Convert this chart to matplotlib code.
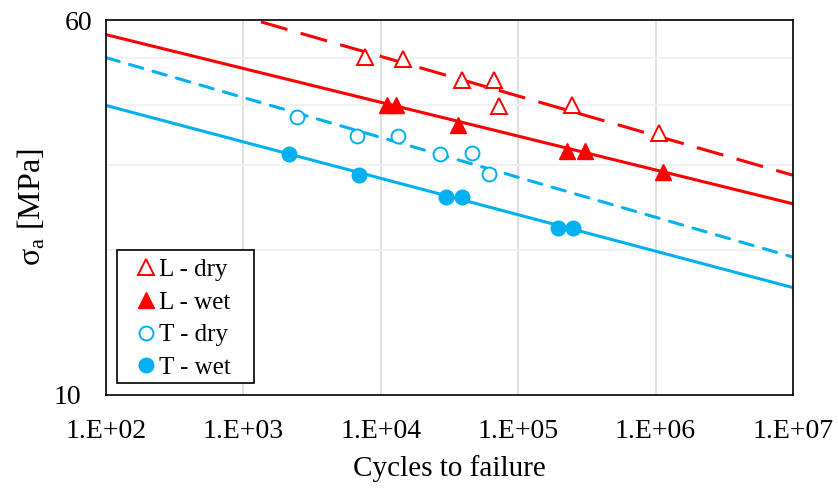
import numpy as np
import matplotlib
matplotlib.use('Agg')
import matplotlib.pyplot as plt
import matplotlib.patches as mpl_patches
from matplotlib.transforms import ScaledTranslation
from matplotlib.ticker import FixedLocator, NullFormatter, NullLocator

plt.rcParams['font.family'] = ['Liberation Serif', 'DejaVu Serif']
plt.rcParams['mathtext.fontset'] = 'custom'
plt.rcParams['mathtext.rm'] = 'Liberation Serif'
plt.rcParams['mathtext.it'] = 'Liberation Serif:italic'

RED = '#FF0000'
BLUE = '#00B0F0'

# test data: cycles to failure and stress amplitude (MPa)
l_dry_n = [7.7e3, 1.45e4, 3.9e4, 6.7e4, 7.25e4, 2.45e5, 1.06e6]
l_dry_s = [50.3, 49.8, 45.0, 45.0, 39.8, 40.0, 35.0]

l_wet_n = [1.11e4, 1.29e4, 3.65e4, 2.27e5, 3.06e5, 1.13e6]
l_wet_s = [40.0, 40.0, 36.3, 32.1, 32.1, 29.0]

t_dry_n = [2.45e3, 6.7e3, 1.33e4, 2.7e4, 4.6e4, 6.1e4]
t_dry_s = [37.8, 34.5, 34.5, 31.6, 31.8, 28.8]

t_wet_n = [2.15e3, 6.9e3, 2.98e4, 3.9e4, 1.95e5, 2.5e5]
t_wet_s = [31.6, 28.6, 25.8, 25.8, 22.2, 22.2]

# power-law trend lines  S = A * N^b
fit_a = {'L - dry': 107.5, 'L - wet': 77.3, 'T - dry': 73.4, 'T - wet': 56.5}
fit_b = {'L - dry': -0.0822, 'L - wet': -0.0702, 'T - dry': -0.0828, 'T - wet': -0.0756}

x_lim = [1e2, 1e7]
y_lim = [10, 60]
x_ticks = [1e2, 1e3, 1e4, 1e5, 1e6, 1e7]
x_labels = ['1.E+02', '1.E+03', '1.E+04', '1.E+05', '1.E+06', '1.E+07']

fig = plt.figure(figsize=(8.38, 4.88), dpi=100)
ax = fig.add_axes([0.1265, 0.1906, 0.8198, 0.7684])

n_line = np.logspace(2, 7, 200)
def trend(key):
    return fit_a[key] * n_line ** fit_b[key]

ax.plot(n_line, trend('L - dry'), color=RED, lw=2.2, dashes=(9, 4.5), zorder=2)
ax.plot(n_line, trend('L - wet'), color=RED, lw=2.2, zorder=2)
ax.plot(n_line, trend('T - dry'), color=BLUE, lw=2.2, dashes=(4.5, 3.5),
        dash_capstyle='round', zorder=2)
ax.plot(n_line, trend('T - wet'), color=BLUE, lw=2.2, zorder=2)

ax.plot(l_dry_n, l_dry_s, ls='none', marker='^', ms=12, mfc='white', mec=RED,
        mew=1.4, label='L - dry', zorder=3)
ax.plot(l_wet_n, l_wet_s, ls='none', marker='^', ms=12, mfc=RED, mec=RED,
        mew=1.0, label='L - wet', zorder=3)
ax.plot(t_dry_n, t_dry_s, ls='none', marker='o', ms=10, mfc='white', mec=BLUE,
        mew=1.4, label='T - dry', zorder=3)
ax.plot(t_wet_n, t_wet_s, ls='none', marker='o', ms=10.5, mfc=BLUE, mec=BLUE,
        mew=1.0, label='T - wet', zorder=3)

ax.set_xscale('log')
ax.set_yscale('log')
ax.set_xlim(x_lim)
ax.set_ylim(y_lim)

ax.xaxis.set_major_locator(FixedLocator(x_ticks))
ax.set_xticklabels(x_labels)
ax.xaxis.set_minor_locator(NullLocator())
ax.yaxis.set_major_locator(FixedLocator([10, 60]))
ax.set_yticklabels(['10', '60'])
ax.yaxis.set_minor_locator(FixedLocator([20, 30, 40, 50]))
ax.yaxis.set_minor_formatter(NullFormatter())

ax.tick_params(axis='both', which='both', length=0, labelsize=20)
ax.tick_params(axis='x', pad=17)
ax.tick_params(axis='y', pad=10)
# Excel puts the bottom "10" a bit further out
lab10 = ax.get_yticklabels()[0]
lab10.set_transform(lab10.get_transform() +
                    ScaledTranslation(-0.11, 0, fig.dpi_scale_trans))

ax.grid(True, which='major', axis='x', color='#D9D9D9', lw=1.2, zorder=0)
ax.grid(True, which='minor', axis='y', color='#F0F0F0', lw=1.2, zorder=0)
ax.set_axisbelow(True)

for sp in ax.spines.values():
    sp.set_color('black')
    sp.set_linewidth(1.2)

ax.set_xlabel('Cycles to failure', fontsize=21)
ax.xaxis.set_label_coords(0.5, -0.16)
ax.set_ylabel(r'$\mathrm{\sigma_a}$ [MPa]', fontsize=23)
ax.yaxis.set_label_coords(-0.085, 0.5)

leg = ax.legend(loc='upper left', bbox_to_anchor=(0.0455, 0.364), fontsize=18,
                frameon=False, handlelength=0.7, handletextpad=0.17,
                labelspacing=0.41, borderpad=0, borderaxespad=0)
box = mpl_patches.Rectangle((0.016, 0.032), 0.1994, 0.3547, transform=ax.transAxes,
                            facecolor='white', edgecolor='black', lw=1.2, zorder=4)
ax.add_patch(box)
leg.set_zorder(5)

fig.savefig('out.png', dpi=100)
